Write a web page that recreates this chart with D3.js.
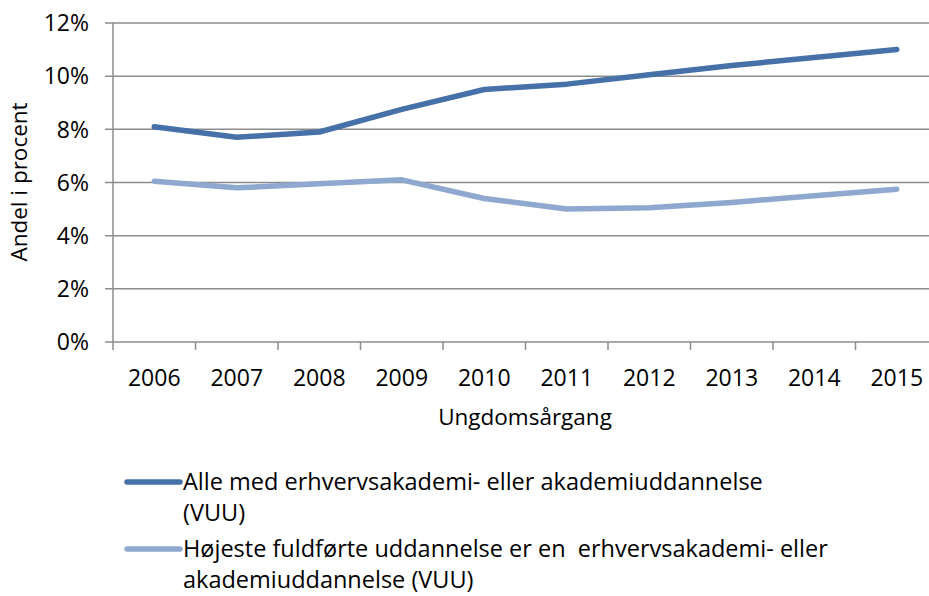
<!DOCTYPE html>
<html>
<head>
<meta charset="utf-8">
<script src="https://cdn.jsdelivr.net/npm/d3@7"></script>
<style>
  body { margin: 0; background: #fff; }
  svg { display: block; font-family: "Open Sans", sans-serif; }
</style>
</head>
<body>
<svg id="chart" width="929" height="596"></svg>
<script>
const years = ["2006", "2007", "2008", "2009", "2010", "2011", "2012", "2013", "2014", "2015"];
const alleVuu = [8.1, 7.7, 7.9, 8.75, 9.5, 9.7, 10.05, 10.4, 10.7, 11.0];
const hoejesteVuu = [6.05, 5.8, 5.95, 6.1, 5.4, 5.0, 5.05, 5.25, 5.5, 5.75];
const yTicks = [0, 2, 4, 6, 8, 10, 12];
const seriesNames = [
  ["Alle med erhvervsakademi- eller akademiuddannelse", "(VUU)"],
  ["Højeste fuldførte uddannelse er en  erhvervsakademi- eller", "akademiuddannelse (VUU)"]
];
const colors = ["#4571a8", "#8ea8d0"];

const svg = d3.select("#chart");
// the plot runs past the right window edge, as in the original
const plotLeft = 113, plotRight = 938, plotTop = 23, plotBottom = 342;

const x = d3.scaleBand().domain(years).range([plotLeft, plotRight]);
const y = d3.scaleLinear().domain([0, 12]).range([plotBottom, plotTop]);

// gridlines
svg.append("g")
  .selectAll("line")
  .data(yTicks)
  .join("line")
  .attr("x1", plotLeft - 8).attr("x2", plotRight)
  .attr("y1", d => y(d)).attr("y2", d => y(d))
  .attr("stroke", "#8c8c8c").attr("stroke-width", 1.5);

// y labels
svg.append("g")
  .selectAll("text")
  .data(yTicks)
  .join("text")
  .attr("x", 89).attr("y", d => y(d))
  .attr("dy", "0.36em")
  .attr("text-anchor", "end")
  .attr("font-size", 23)
  .text(d => d + "%");

// y axis line
svg.append("line")
  .attr("x1", plotLeft).attr("x2", plotLeft)
  .attr("y1", plotTop).attr("y2", plotBottom + 8)
  .attr("stroke", "#8c8c8c").attr("stroke-width", 1.5);

// x ticks at band edges
svg.append("g")
  .selectAll("line")
  .data(years.slice(1))
  .join("line")
  .attr("x1", d => x(d)).attr("x2", d => x(d))
  .attr("y1", plotBottom).attr("y2", plotBottom + 8)
  .attr("stroke", "#8c8c8c").attr("stroke-width", 1.5);

svg.append("g")
  .selectAll("text")
  .data(years)
  .join("text")
  .attr("x", d => x(d) + x.bandwidth() / 2)
  .attr("y", 386)
  .attr("text-anchor", "middle")
  .attr("font-size", 23)
  .text(d => d);

// axis titles
svg.append("text")
  .attr("x", 525).attr("y", 425)
  .attr("text-anchor", "middle")
  .attr("font-size", 22.5)
  .text("Ungdomsårgang");

svg.append("text")
  .attr("transform", "translate(19,182) rotate(-90)")
  .attr("dy", "0.36em")
  .attr("text-anchor", "middle")
  .attr("font-size", 22.5)
  .text("Andel i procent");

// lines
const line = d3.line()
  .x((d, i) => x(years[i]) + x.bandwidth() / 2)
  .y(d => y(d));

[alleVuu, hoejesteVuu].forEach((s, i) => {
  svg.append("path")
    .datum(s)
    .attr("fill", "none")
    .attr("stroke", colors[i])
    .attr("stroke-width", 5.5)
    .attr("stroke-linecap", "round")
    .attr("stroke-linejoin", "round")
    .attr("d", line);
});

// legend
const legendY = [482, 549];
seriesNames.forEach((lines, i) => {
  const g = svg.append("g");
  g.append("line")
    .attr("x1", 127).attr("x2", 180)
    .attr("y1", legendY[i]).attr("y2", legendY[i])
    .attr("stroke", colors[i]).attr("stroke-width", 5.5)
    .attr("stroke-linecap", "round");
  lines.forEach((t, j) => {
    g.append("text")
      .attr("x", 183).attr("y", legendY[i] + j * 31)
      .attr("dy", "0.36em")
      .attr("font-size", 23.5)
      .style("white-space", "pre")
      .text(t);
  });
});
</script>
</body>
</html>
